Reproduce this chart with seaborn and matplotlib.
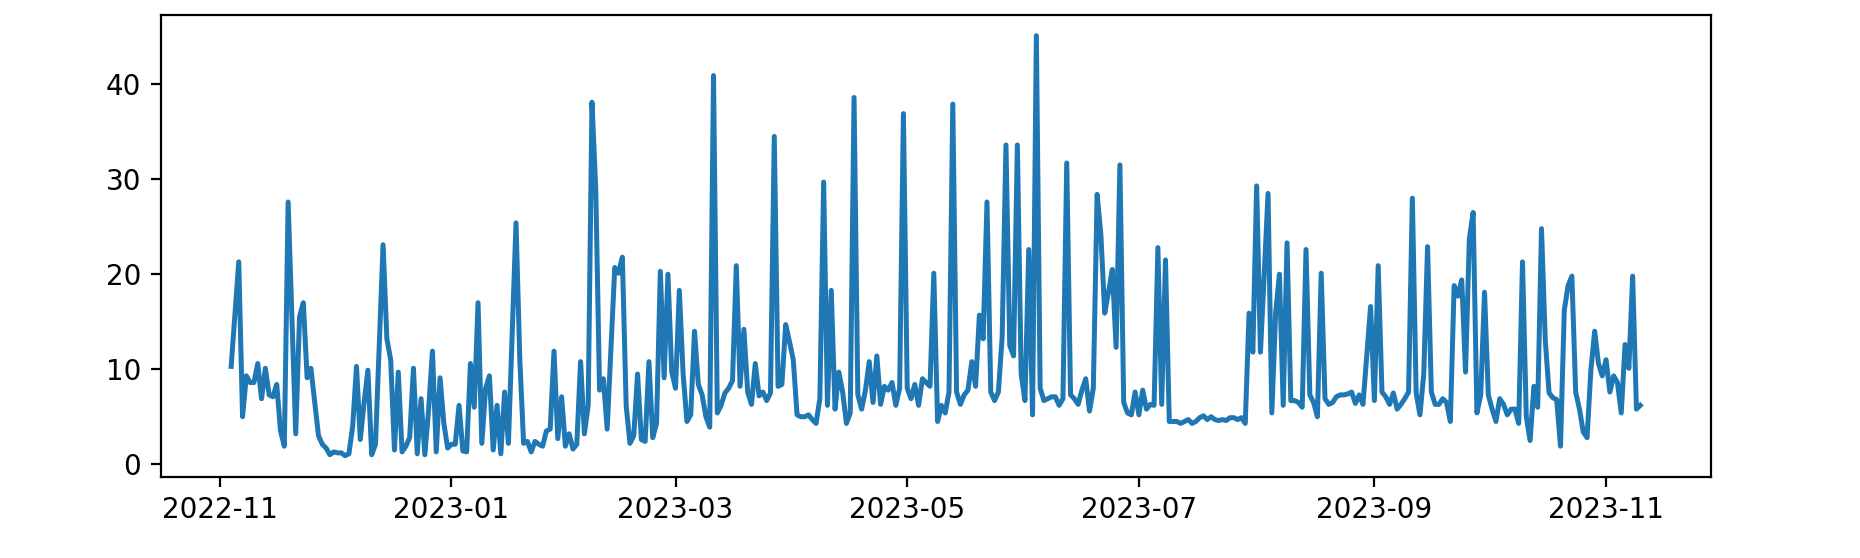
import pandas as pd
import seaborn as sns
import matplotlib.pyplot as plt

# daily values, first day 2022-11-04
start = '2022-11-04'

nov_2022 = [10.3, 15.8, 21.3, 5.0, 9.3, 8.6, 8.6, 10.6, 6.9, 10.1, 7.3, 7.1, 8.4, 3.5,
            1.9, 27.6, 15.4, 3.2, 15.5, 17.0, 9.1, 10.1, 6.5, 3.0, 2.1, 1.7, 1.0]
dec_2022 = [1.3, 1.2, 1.2, 0.9, 1.1, 4.0, 10.3, 2.6, 6.5, 9.9, 1.0, 2.1, 12.6, 23.1,
            13.2, 11.0, 1.5, 9.7, 1.3, 1.9, 2.8, 10.1, 1.1, 6.9, 1.0, 5.8, 11.9, 1.3,
            9.1, 4.3, 1.7]
jan_2023 = [2.1, 2.1, 6.2, 1.4, 1.3, 10.6, 6.0, 17.0, 2.2, 8.0, 9.3, 1.5, 6.2, 1.1,
            7.6, 2.2, 13.8, 25.4, 11.0, 2.2, 2.4, 1.3, 2.4, 2.1, 1.9, 3.5, 3.7, 11.9,
            2.7, 7.1, 1.9]
feb_2023 = [3.2, 1.6, 2.1, 10.8, 3.2, 6.2, 38.1, 28.9, 7.8, 9.0, 3.7, 12.2, 20.7, 20.1,
            21.8, 6.2, 2.2, 3.0, 9.5, 2.6, 2.4, 10.8, 2.8, 4.3, 20.3, 9.1, 20.0, 9.7]
mar_2023 = [8.0, 18.3, 9.5, 4.5, 5.2, 14.0, 8.4, 7.3, 5.0, 3.9, 40.9, 5.4, 6.2, 7.5,
            8.0, 8.8, 20.9, 8.2, 14.2, 7.6, 6.3, 10.6, 7.2, 7.6, 6.7, 7.5, 34.5, 8.2,
            8.4, 14.7, 12.9]
apr_2023 = [11.0, 5.2, 5.0, 5.0, 5.2, 4.7, 4.3, 6.9, 29.7, 6.2, 18.3, 5.8, 9.7, 7.6,
            4.3, 5.4, 38.6, 7.3, 5.8, 7.8, 10.8, 6.5, 11.4, 6.3, 8.2, 7.8, 8.6, 6.2,
            8.0, 36.9]
may_2023 = [8.0, 6.9, 8.4, 6.2, 9.0, 8.6, 8.2, 20.1, 4.5, 6.2, 5.4, 7.6, 37.9, 7.6,
            6.3, 7.3, 7.8, 10.8, 8.2, 15.7, 13.2, 27.6, 7.6, 6.7, 7.6, 13.4, 33.6, 12.5,
            11.4, 33.6, 9.5]
jun_2023 = [6.7, 22.6, 5.2, 45.1, 8.0, 6.7, 6.9, 7.1, 7.1, 6.2, 6.9, 31.7, 7.3, 6.9,
            6.3, 7.8, 9.0, 5.6, 8.0, 28.4, 24.1, 15.9, 18.1, 20.5, 12.3, 31.5, 6.5, 5.4,
            5.2, 7.6]
jul_2023 = [5.2, 7.8, 5.8, 6.3, 6.2, 22.8, 6.3, 21.5, 4.5, 4.5, 4.5, 4.3, 4.5, 4.7,
            4.3, 4.5, 4.9, 5.1, 4.7, 5.0, 4.7, 4.6, 4.7, 4.6, 4.9, 4.9, 4.7, 4.9, 4.3,
            15.9, 11.8]
aug_2023 = [29.3, 11.8, 20.0, 28.5, 5.4, 15.9, 20.0, 6.2, 23.3, 6.7, 6.7, 6.5, 6.0, 22.6,
            7.3, 6.5, 5.0, 20.1, 6.9, 6.3, 6.5, 7.1, 7.3, 7.3, 7.4, 7.6, 6.4, 7.3, 6.3,
            11.4, 16.6]
sep_2023 = [6.7, 20.9, 7.6, 7.1, 6.3, 7.5, 5.8, 6.3, 6.9, 7.6, 28.0, 7.5, 5.2, 9.5,
            22.9, 7.6, 6.3, 6.3, 6.9, 6.5, 4.5, 18.8, 17.7, 19.4, 9.7, 23.7, 26.5, 5.4,
            7.3, 18.1]
oct_2023 = [7.3, 5.8, 4.5, 6.9, 6.3, 5.2, 5.8, 5.8, 4.3, 21.3, 5.0, 2.5, 8.2, 6.0,
            24.8, 13.0, 7.5, 7.0, 6.8, 1.9, 16.2, 18.8, 19.8, 7.6, 5.8, 3.4, 2.8, 9.9,
            14.0, 10.6, 9.3]
nov_2023 = [11.0, 7.6, 9.3, 8.6, 5.4, 12.6, 10.1, 19.8, 5.8, 6.2]

values = (nov_2022 + dec_2022 + jan_2023 + feb_2023 + mar_2023 + apr_2023 + may_2023
          + jun_2023 + jul_2023 + aug_2023 + sep_2023 + oct_2023 + nov_2023)
df = pd.DataFrame({'date': pd.date_range(start, periods=len(values), freq='D'),
                   'value': values})

fig = plt.figure(figsize=(9.3, 2.79), dpi=200)
ax = fig.add_axes([160.7 / 1860, 81.3 / 558, 1550 / 1860, 462 / 558])
sns.lineplot(data=df, x='date', y='value', ax=ax, color='#1f77b4', linewidth=1.8)
ax.set_xlabel('')
ax.set_ylabel('')

plt.savefig('out.png', dpi=200)
